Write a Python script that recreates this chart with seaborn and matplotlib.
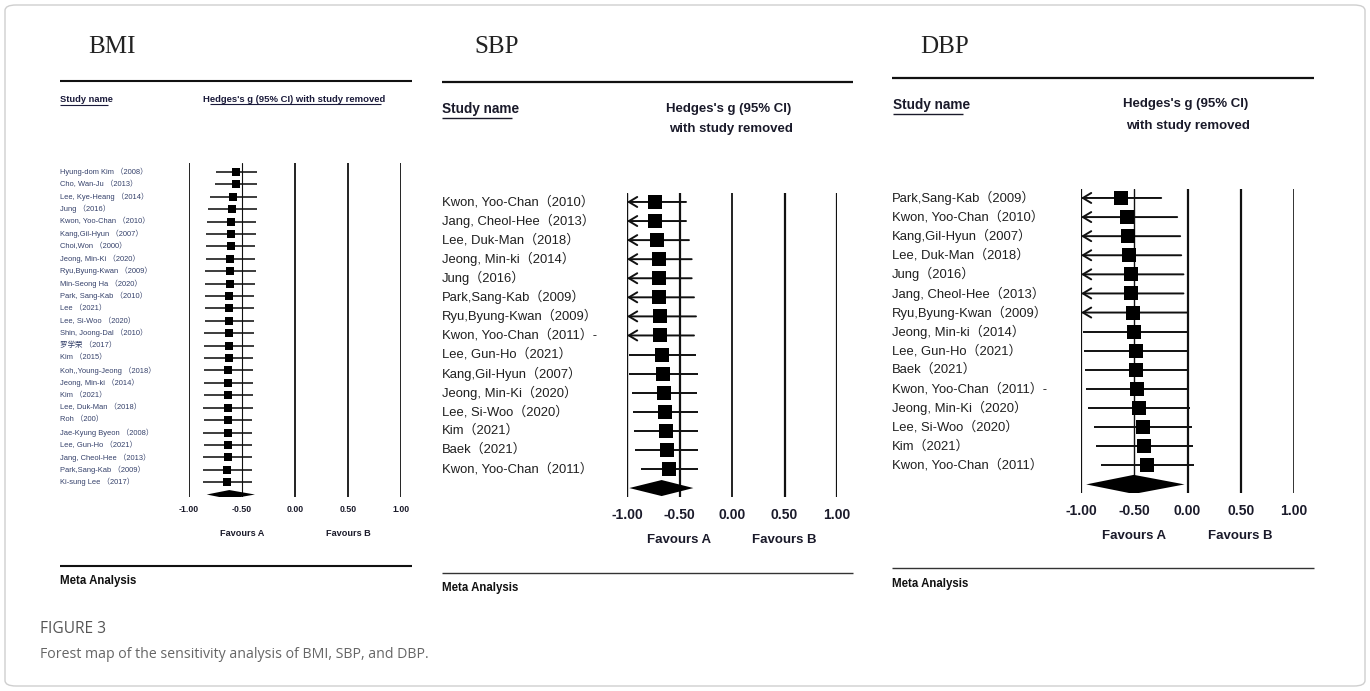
import numpy as np
import pandas as pd
import seaborn as sns
import matplotlib
matplotlib.use("Agg")
import matplotlib.pyplot as plt
from matplotlib.lines import Line2D
from matplotlib.patches import FancyBboxPatch
from matplotlib.transforms import blended_transform_factory

# ---------------- data ----------------
bmi_names = [
    "Hyung-dom Kim （2008）", "Cho, Wan-Ju （2013）", "Lee, Kye-Heang （2014）",
    "Jung （2016）", "Kwon, Yoo-Chan （2010）", "Kang,Gil-Hyun （2007）",
    "Choi,Won （2000）", "Jeong, Min-Ki （2020）", "Ryu,Byung-Kwan （2009）",
    "Min-Seong Ha （2020）", "Park, Sang-Kab （2010）", "Lee （2021）",
    "Lee, Si-Woo （2020）", "Shin, Joong-Dal （2010）", "罗学荣 （2017）",
    "Kim （2015）", "Koh,,Young-Jeong （2018）", "Jeong, Min-ki （2014）",
    "Kim （2021）", "Lee, Duk-Man （2018）", "Roh （200）",
    "Jae-Kyung Byeon （2008）", "Lee, Gun-Ho （2021）", "Jang, Cheol-Hee （2013）",
    "Park,Sang-Kab （2009）", "Ki-sung Lee （2017）",
]
bmi_g = [-0.557, -0.557, -0.582, -0.591, -0.604, -0.607, -0.607, -0.610, -0.610,
         -0.613, -0.619, -0.619, -0.623, -0.623, -0.623, -0.623, -0.629, -0.629,
         -0.629, -0.632, -0.632, -0.632, -0.635, -0.635, -0.639, -0.639]
bmi_lo = [-0.745, -0.755, -0.800, -0.820, -0.833, -0.840, -0.840, -0.840, -0.849,
          -0.849, -0.849, -0.849, -0.849, -0.858, -0.858, -0.858, -0.858, -0.858,
          -0.858, -0.871, -0.858, -0.871, -0.858, -0.871, -0.871, -0.871]
bmi_hi = [-0.362, -0.362, -0.362, -0.362, -0.368, -0.368, -0.377, -0.377, -0.368,
          -0.377, -0.387, -0.387, -0.387, -0.387, -0.387, -0.400, -0.400, -0.400,
          -0.400, -0.400, -0.409, -0.409, -0.409, -0.409, -0.409, -0.409]
bmi_pooled = [-0.62, -0.833, -0.378]   # effect, lower, upper

sbp_names = [
    "Kwon, Yoo-Chan（2010）", "Jang, Cheol-Hee（2013）", "Lee, Duk-Man（2018）",
    "Jeong, Min-ki（2014）", "Jung（2016）", "Park,Sang-Kab（2009）",
    "Ryu,Byung-Kwan（2009）", "Kwon, Yoo-Chan（2011）-", "Lee, Gun-Ho（2021）",
    "Kang,Gil-Hyun（2007）", "Jeong, Min-Ki（2020）", "Lee, Si-Woo（2020）",
    "Kim（2021）", "Baek（2021）", "Kwon, Yoo-Chan（2011）",
]
sbp_g = [-0.733, -0.733, -0.717, -0.700, -0.698, -0.692, -0.683, -0.683, -0.663,
         -0.654, -0.644, -0.638, -0.629, -0.622, -0.597]
sbp_lo = [-1.06, -1.06, -1.05, -1.04, -1.04, -1.03, -1.02, -1.02, -0.978,
          -0.978, -0.952, -0.940, -0.933, -0.924, -0.867]
sbp_hi = [-0.438, -0.438, -0.410, -0.384, -0.384, -0.362, -0.343, -0.362, -0.343,
          -0.327, -0.330, -0.327, -0.321, -0.321, -0.321]
sbp_pooled = [-0.67, -0.978, -0.368]

dbp_names = [
    "Park,Sang-Kab（2009）", "Kwon, Yoo-Chan（2010）", "Kang,Gil-Hyun（2007）",
    "Lee, Duk-Man（2018）", "Jung（2016）", "Jang, Cheol-Hee（2013）",
    "Ryu,Byung-Kwan（2009）", "Jeong, Min-ki（2014）", "Lee, Gun-Ho（2021）",
    "Baek（2021）", "Kwon, Yoo-Chan（2011）-", "Jeong, Min-Ki（2020）",
    "Lee, Si-Woo（2020）", "Kim（2021）", "Kwon, Yoo-Chan（2011）",
]
dbp_g = [-0.629, -0.570, -0.563, -0.545, -0.529, -0.526, -0.516, -0.498, -0.485,
         -0.479, -0.476, -0.457, -0.420, -0.410, -0.382]
dbp_lo = [-1.04, -1.04, -1.04, -1.03, -1.03, -1.02, -1.01, -0.983, -0.974,
          -0.961, -0.951, -0.930, -0.880, -0.857, -0.810]
dbp_hi = [-0.247, -0.097, -0.069, -0.059, -0.038, -0.038, 0.000, 0.000, 0.000,
          0.000, 0.000, 0.019, 0.041, 0.050, 0.059]
dbp_pooled = [-0.504, -0.951, -0.028]

tick_values = [-1.0, -0.5, 0.0, 0.5, 1.0]
tick_labels = ["-1.00", "-0.50", "0.00", "0.50", "1.00"]

# ---------------- style ----------------
sns.set_theme(style="white")
plt.rcParams["font.family"] = ["Liberation Sans", "Noto Sans CJK SC", "DejaVu Sans"]
NAME_FONT = ["Liberation Sans", "Noto Sans CJK SC", "DejaVu Sans"]
SERIF = ["Liberation Serif", "DejaVu Serif"]

W, H = 1370, 691
fig = plt.figure(figsize=(W / 100, H / 100), dpi=100)
fig.patch.set_facecolor("white")


def fx(px):
    return px / W


def fy(py):
    return 1 - py / H


def hline_px(x0, x1, y, lw=1.6, color="#111111"):
    fig.add_artist(Line2D([fx(x0), fx(x1)], [fy(y), fy(y)], transform=fig.transFigure,
                          color=color, lw=lw, solid_capstyle="butt"))


def fig_text(px, py, s, **kw):
    fig.text(fx(px), fy(py), s, **kw)


def forest(ax, names, g, lo, hi, pooled, *, name_x, name_size, name_color, marker_size,
           ci_lw, diamond_h, tick_size, tick_pad, fav_y, fav_size, vline_lw):
    n = len(names)
    df = pd.DataFrame({"study": names, "g": g, "lo": lo, "hi": hi, "row": np.arange(n)})
    ax.set_xlim(-1, 1)

    for v, lw in zip(tick_values, vline_lw):
        ax.axvline(v, color="#111111", lw=lw, zorder=1)

    clipped = df[df["lo"] < -1]
    inside = df[df["lo"] >= -1]
    ax.hlines(inside["row"], inside["lo"], np.minimum(inside["hi"], 1), color="#111111",
              lw=ci_lw, zorder=2)
    for _, r in clipped.iterrows():
        ax.annotate("", xy=(-1, r["row"]), xytext=(min(r["hi"], 1), r["row"]),
                    arrowprops=dict(arrowstyle="->,head_length=0.5,head_width=0.3",
                                    lw=ci_lw, color="#111111",
                                    shrinkA=0, shrinkB=0, mutation_scale=12),
                    zorder=2)

    sns.scatterplot(data=df, x="g", y="row", marker="s", s=marker_size, color="black",
                    edgecolor="black", linewidth=0, ax=ax, zorder=3, legend=False)

    eff, plo, phi = pooled
    ax.fill([plo, eff, phi, eff], [n, n - diamond_h, n, n + diamond_h], color="black",
            lw=0, zorder=3)

    tr = blended_transform_factory(fig.transFigure, ax.transData)
    for _, r in df.iterrows():
        ax.text(fx(name_x), r["row"], r["study"], transform=tr, ha="left", va="center",
                fontsize=name_size, color=name_color, family=NAME_FONT)

    ax.set_xticks(tick_values)
    ax.set_xticklabels(tick_labels, fontsize=tick_size, fontweight="bold", color="#1a1a2a")
    ax.tick_params(axis="x", length=0, pad=tick_pad)
    ax.set_yticks([])
    ax.set_xlabel("")
    ax.set_ylabel("")
    for sp in ax.spines.values():
        sp.set_visible(False)
    ax.patch.set_alpha(0)

    trf = blended_transform_factory(ax.transData, fig.transFigure)
    ax.text(-0.5, fy(fav_y), "Favours A", transform=trf, ha="center", va="center",
            fontsize=fav_size, fontweight="bold", color="#1a1a2a")
    ax.text(0.5, fy(fav_y), "Favours B", transform=trf, ha="center", va="center",
            fontsize=fav_size, fontweight="bold", color="#1a1a2a")


def add_axes_px(left, right, top, bottom):
    return fig.add_axes([fx(left), fy(bottom), fx(right) - fx(left), (bottom - top) / H])


# ---------------- BMI ----------------
ax1 = add_axes_px(189, 401, 163, 497)
ax1.set_ylim(26.2, -0.73)
forest(ax1, bmi_names, bmi_g, bmi_lo, bmi_hi, bmi_pooled, name_x=60, name_size=5.4,
       name_color="#34406a", marker_size=40, ci_lw=1.15, diamond_h=0.36, tick_size=6.3,
       tick_pad=6, fav_y=534, fav_size=6.6, vline_lw=[1.3, 0.8, 1.3, 1.3, 1.3])

fig_text(88, 47, "BMI", fontsize=18, family=SERIF, color="#222222", ha="left", va="center")
hline_px(60, 412, 81, lw=1.5)
fig_text(60, 99, "Study name", fontsize=6.7, fontweight="bold", color="#1a1a3a",
         ha="left", va="center")
hline_px(60, 108, 105, lw=0.8, color="#1a1a3a")
fig_text(203, 99, "Hedges's g (95% CI) with study removed", fontsize=6.8,
         fontweight="bold", color="#1a1a3a", ha="left", va="center")
hline_px(210, 381, 104, lw=0.8, color="#1a1a3a")
hline_px(60, 412, 566, lw=1.5)
fig_text(60, 581, "Meta Analysis", fontsize=8.3, fontweight="bold", color="#111111",
         ha="left", va="center")

# ---------------- SBP ----------------
ax2 = add_axes_px(627, 837, 193, 497)
ax2.set_ylim(15.47, -0.47)
forest(ax2, sbp_names, sbp_g, sbp_lo, sbp_hi, sbp_pooled, name_x=442, name_size=9.4,
       name_color="#1f1f1f", marker_size=105, ci_lw=1.4, diamond_h=0.42, tick_size=10,
       tick_pad=8, fav_y=540, fav_size=9.5, vline_lw=[1.0, 1.6, 1.3, 1.6, 1.6])

fig_text(474, 47, "SBP", fontsize=18, family=SERIF, color="#222222", ha="left", va="center")
hline_px(442, 853, 82, lw=1.6)
fig_text(442, 109, "Study name", fontsize=9.8, fontweight="bold", color="#1a1a2a",
         ha="left", va="center")
hline_px(442, 512, 118, lw=1.0, color="#1a1a2a")
fig_text(729, 109, "Hedges's g (95% CI)", fontsize=9.5, fontweight="bold", color="#1a1a2a",
         ha="center", va="center")
fig_text(731, 129, "with study removed", fontsize=9.5, fontweight="bold", color="#1a1a2a",
         ha="center", va="center")
hline_px(442, 853, 573, lw=1.0, color="#333333")
fig_text(442, 588, "Meta Analysis", fontsize=8.3, fontweight="bold", color="#111111",
         ha="left", va="center")

# ---------------- DBP ----------------
ax3 = add_axes_px(1081, 1294, 189, 493)
ax3.set_ylim(15.45, -0.47)
forest(ax3, dbp_names, dbp_g, dbp_lo, dbp_hi, dbp_pooled, name_x=892, name_size=9.4,
       name_color="#1f1f1f", marker_size=110, ci_lw=1.4, diamond_h=0.5, tick_size=10,
       tick_pad=8, fav_y=536, fav_size=9.5, vline_lw=[1.6, 1.0, 1.6, 1.6, 1.2])

fig_text(920, 47, "DBP", fontsize=18, family=SERIF, color="#222222", ha="left", va="center")
hline_px(892, 1314, 78, lw=1.6)
fig_text(893, 105, "Study name", fontsize=9.8, fontweight="bold", color="#1a1a2a",
         ha="left", va="center")
hline_px(893, 963, 114, lw=1.0, color="#1a1a2a")
fig_text(1186, 104, "Hedges's g (95% CI)", fontsize=9.5, fontweight="bold", color="#1a1a2a",
         ha="center", va="center")
fig_text(1188, 126, "with study removed", fontsize=9.5, fontweight="bold", color="#1a1a2a",
         ha="center", va="center")
hline_px(892, 1314, 568, lw=1.0, color="#333333")
fig_text(892, 584, "Meta Analysis", fontsize=8.3, fontweight="bold", color="#111111",
         ha="left", va="center")

# ---------------- caption & frame ----------------
fig_text(40, 629, "FIGURE 3", fontsize=11.2, family=["Open Sans", "DejaVu Sans"],
         color="#555555", ha="left", va="center")
fig_text(40, 655, "Forest map of the sensitivity analysis of BMI, SBP, and DBP.",
         fontsize=10.2, family=["Open Sans", "DejaVu Sans"], color="#666666",
         ha="left", va="center")

frame = FancyBboxPatch((fx(5), fy(686)), fx(1360), (681) / H,
                       boxstyle="round,pad=0,rounding_size=0.008",
                       transform=fig.transFigure, facecolor="none",
                       edgecolor="#cfcfcf", lw=1.0)
fig.add_artist(frame)

fig.savefig("out.png", dpi=100, facecolor="white")
